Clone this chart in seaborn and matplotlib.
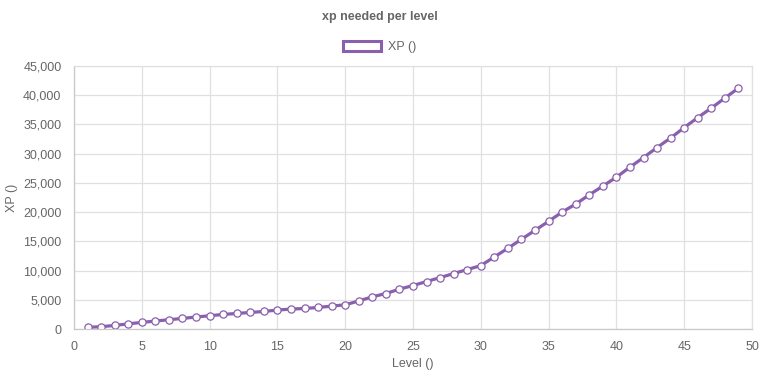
import numpy as np
import pandas as pd
import seaborn as sns
import matplotlib.pyplot as plt
from matplotlib.patches import Patch
from matplotlib.ticker import FuncFormatter, MultipleLocator

# values
levels = list(range(1, 50))
xp = [280, 400, 610, 880, 1130, 1360, 1590, 1810, 2050, 2270,
      2490, 2660, 2830, 3000, 3240, 3410, 3510, 3680, 3920, 4140,
      4800, 5510, 6070, 6820, 7440, 8120, 8800, 9490, 10170, 10850,
      12330, 13820, 15350, 16890, 18420, 20010, 21380, 22960, 24450, 25980,
      27690, 29340, 31050, 32690, 34460, 36170, 37810, 39510, 41220]

line_color = "#8a5fae"
text_color = "#666666"
grid_color = "#e0e0e0"


def main():
    df = pd.DataFrame({"level": levels, "xp": xp})

    sns.set_theme(style="whitegrid")
    plt.rcParams["font.family"] = ["Liberation Sans", "DejaVu Sans"]

    fig = plt.figure(figsize=(7.6, 3.8), dpi=100)
    ax = fig.add_axes([74 / 760, 1 - 329 / 380, (752 - 74) / 760, (329 - 66) / 380])

    sns.lineplot(data=df, x="level", y="xp", ax=ax, color=line_color, linewidth=2.3,
                 marker="o", markersize=5.2, markerfacecolor="white",
                 markeredgecolor=line_color, markeredgewidth=0.9)

    ax.set_xlim(0, 50)
    ax.set_ylim(0, 45000)
    ax.xaxis.set_major_locator(MultipleLocator(5))
    ax.yaxis.set_major_locator(MultipleLocator(5000))
    ax.yaxis.set_major_formatter(FuncFormatter(lambda v, p: f"{int(v):,}"))

    ax.grid(True, color=grid_color, linewidth=0.9)
    for side, sp in ax.spines.items():
        sp.set_visible(True)
        sp.set_color(grid_color)
        sp.set_linewidth(0.9)
    ax.spines["left"].set_color("#c8c8c8")
    ax.spines["bottom"].set_color("#c8c8c8")

    ax.tick_params(axis="both", which="major", length=6, width=0.9, color=grid_color,
                   labelsize=9, labelcolor=text_color, pad=3)

    ax.set_xlabel("Level ()", fontsize=9, color=text_color, labelpad=3)
    ax.set_ylabel("XP ()", fontsize=9, color=text_color, labelpad=4)

    fig.text(0.5, 1 - 17 / 380, "xp needed per level", ha="center", va="center",
             fontsize=9, fontweight="bold", color=text_color)

    handle = Patch(facecolor="white", edgecolor=line_color, linewidth=2.2)
    fig.legend([handle], ["XP ()"], loc="center", bbox_to_anchor=(0.5, 1 - 47 / 380),
               frameon=False, fontsize=9, handlelength=3.0, handleheight=0.9,
               handletextpad=0.6, labelcolor=text_color)

    fig.savefig("out.png", dpi=100)


if __name__ == '__main__':
    main()
